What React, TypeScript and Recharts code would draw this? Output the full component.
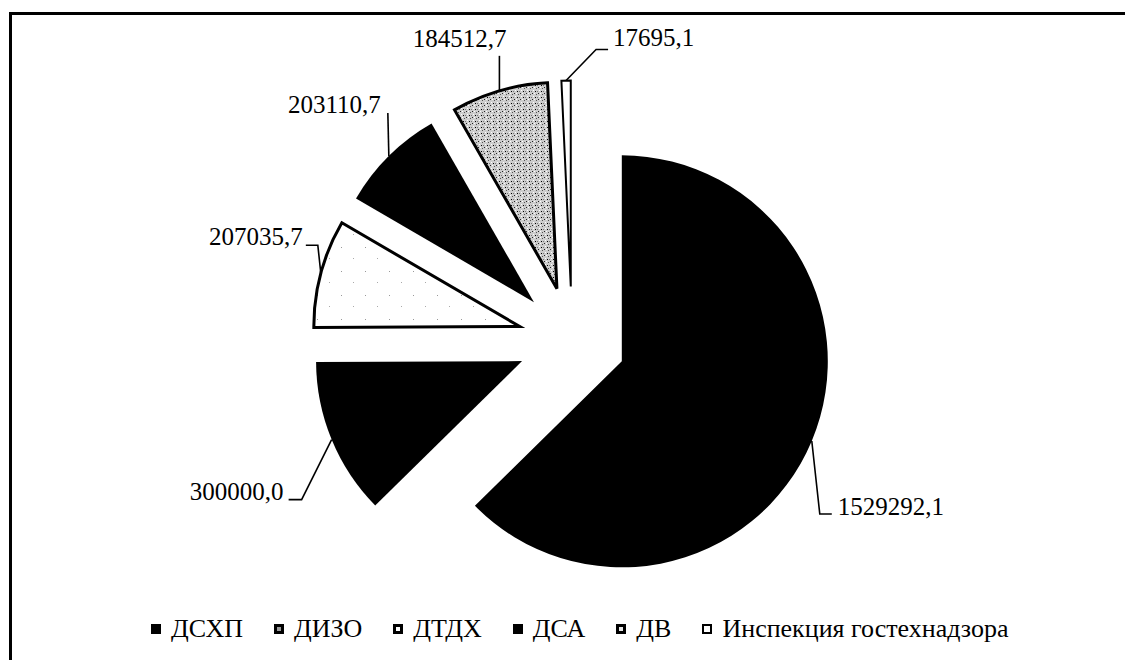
import React from 'react';
import { PieChart, Pie, Cell, Legend } from 'recharts';

// ---- data ----
const categories: string[] = ['ДСХП', 'ДИЗО', 'ДТДХ', 'ДСА', 'ДВ', 'Инспекция гостехнадзора'];
const values: number[] = [1529292.1, 300000.0, 207035.7, 203110.7, 184512.7, 17695.1];

const data = categories.map((name, i) => ({ name, value: values[i] }));

// ---- style / layout ----
const W = 1125;
const H = 660;
const CX = 572;
const CY = 340.5;
const R = 206;
const EXPLODE = 54;
const FONT = '"Liberation Serif", "Times New Roman", serif';

const fills = ['#000', '#000', 'url(#sparseDots)', '#000', 'url(#denseDots)', '#fff'];
const strokeWidths = [0, 0, 3, 0, 3, 2];

type LabelCfg = { ex: number; ey: number; hx: number; tx: number; ty: number; anchor: 'start' | 'end' };
const labelCfg: LabelCfg[] = [
  { ex: 8, ey: 73, hx: 12, tx: 18, ty: 1, anchor: 'start' },
  { ex: -30, ey: 60, hx: -13, tx: -18, ty: 0, anchor: 'end' },
  { ex: -3, ey: -28, hx: -12, tx: -15, ty: 0, anchor: 'end' },
  { ex: -1, ey: -43, hx: 0, tx: -7, ty: 0, anchor: 'end' },
  { ex: 0, ey: -35, hx: 0, tx: 7, ty: -9, anchor: 'end' },
  { ex: 30, ey: -31, hx: 12, tx: 17, ty: -4, anchor: 'start' },
];

type MarkerStyle = { bg: string; border: number };
const legendMarkers: MarkerStyle[] = [
  { bg: '#000', border: 0 },
  { bg: '#9a9a9a', border: 3 },
  { bg: '#fff', border: 3 },
  { bg: '#000', border: 0 },
  { bg: '#e6e6e6', border: 3 },
  { bg: '#fff', border: 2 },
];

const total = values.reduce((a, b) => a + b, 0);
const offsets = values.map((v, i) => {
  const before = values.slice(0, i).reduce((a, b) => a + b, 0);
  const theta = ((before + v / 2) / total) * 2 * Math.PI;
  return { dx: EXPLODE * Math.sin(theta), dy: -EXPLODE * Math.cos(theta) };
});

const fmt = (v: number) => v.toFixed(1).replace('.', ',');

const makeLabel = (k: number) => (props: any) => {
  const { cx, cy, midAngle, outerRadius, index, value } = props;
  if (index !== k) return null;
  const rad = Math.PI / 180;
  const px = cx + outerRadius * Math.cos(-midAngle * rad);
  const py = cy + outerRadius * Math.sin(-midAngle * rad);
  const c = labelCfg[k];
  const ex = px + c.ex;
  const ey = py + c.ey;
  const hx = ex + c.hx;
  return (
    <g key={`lbl-${k}`}>
      <polyline
        points={`${px},${py} ${ex},${ey} ${hx},${ey}`}
        fill="none"
        stroke="#000"
        strokeWidth={1.6}
      />
      <text
        x={ex + c.tx}
        y={ey + c.ty}
        textAnchor={c.anchor}
        fontFamily={FONT}
        fontSize={25}
        fill="#000"
      >
        {fmt(value)}
      </text>
    </g>
  );
};

const renderLegend = () => (
  <div
    style={{
      display: 'flex',
      alignItems: 'center',
      fontFamily: FONT,
      fontSize: 26,
      color: '#000',
      whiteSpace: 'nowrap',
    }}
  >
    {categories.map((name, i) => {
      const m = legendMarkers[i];
      return (
        <div key={name} style={{ display: 'flex', alignItems: 'center', marginRight: i < categories.length - 1 ? 31 : 0 }}>
          <span
            style={{
              display: 'inline-block',
              width: 10,
              height: 10,
              boxSizing: 'border-box',
              background: m.bg,
              border: m.border ? `${m.border}px solid #000` : 'none',
              marginRight: 10,
            }}
          />
          <span>{name}</span>
        </div>
      );
    })}
  </div>
);

export default function App() {
  return (
    <div style={{ position: 'absolute', left: 0, top: 0, width: W, height: H, overflow: 'hidden', background: '#fff' }}>
      <div
        style={{
          position: 'absolute',
          left: 9,
          top: 12,
          width: 1300,
          height: 900,
          borderLeft: '3px solid #000',
          borderTop: '3px solid #000',
        }}
      />
      <div style={{ position: 'absolute', left: 0, top: 0 }}>
        <PieChart width={W} height={H} margin={{ top: 0, right: 0, bottom: 0, left: 0 }}>
          <defs>
            <pattern id="denseDots" width="6" height="6" patternUnits="userSpaceOnUse">
              <rect width="6" height="6" fill="#cdcdcd" />
              <rect x="1" y="1" width="1" height="1" fill="#000" />
              <rect x="4" y="3" width="1" height="1" fill="#222" />
              <rect x="2" y="4" width="1" height="1" fill="#555" />
              <rect x="5" y="0" width="1" height="1" fill="#fff" />
              <rect x="0" y="3" width="1" height="1" fill="#fff" />
              <rect x="3" y="1" width="1" height="1" fill="#777" />
            </pattern>
            <pattern id="sparseDots" width="24" height="24" patternUnits="userSpaceOnUse">
              <rect width="24" height="24" fill="#fff" />
              <rect x="5" y="7" width="1" height="1" fill="#999" />
              <rect x="17" y="18" width="1" height="1" fill="#aaa" />
            </pattern>
          </defs>
          {values.map((_, k) => (
            <Pie
              key={`pie-${k}`}
              data={data}
              dataKey="value"
              nameKey="name"
              cx={CX + offsets[k].dx}
              cy={CY + offsets[k].dy}
              outerRadius={R}
              innerRadius={0}
              startAngle={90}
              endAngle={-270}
              isAnimationActive={false}
              labelLine={false}
              label={makeLabel(k)}
              legendType="none"
            >
              {data.map((d, i) => (
                <Cell
                  key={`c-${k}-${i}`}
                  fill={i === k ? fills[i] : 'none'}
                  stroke={i === k && strokeWidths[i] > 0 ? '#000' : 'none'}
                  strokeWidth={i === k ? strokeWidths[i] : 0}
                />
              ))}
            </Pie>
          ))}
          <Legend
            content={renderLegend}
            wrapperStyle={{ position: 'absolute', left: 151, top: 614, width: 'auto', bottom: 'auto' }}
          />
        </PieChart>
      </div>
    </div>
  );
}
